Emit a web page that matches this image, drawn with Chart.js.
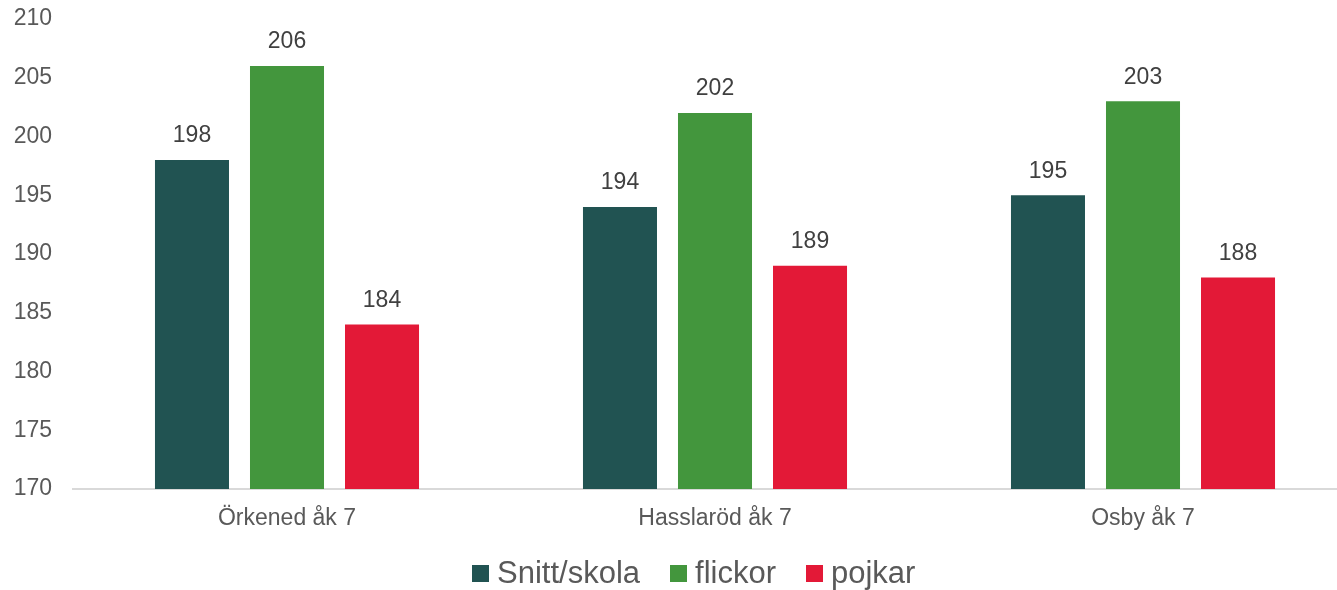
<!DOCTYPE html>
<html><head><meta charset="utf-8">
<script src="https://cdn.jsdelivr.net/npm/chart.js@4.4.0/dist/chart.umd.min.js"></script>
<style>
html,body{margin:0;padding:0;background:#fff;overflow:hidden;width:1337px;height:590px;}
#wrap{position:absolute;left:0;top:0;width:1357px;height:590px;}
#legend{position:absolute;left:472px;top:555px;display:flex;align-items:center;font-family:"Liberation Sans",Arial,sans-serif;font-size:31px;color:#595959;white-space:nowrap;}
.item{display:flex;align-items:center;margin-right:30px;}
.box{width:17px;height:17px;margin-right:8px;}
</style></head>
<body>
<div id="wrap"><canvas id="c" width="1357" height="590"></canvas></div>
<div id="legend"></div>
<script>
const categories = ["Örkened åk 7", "Hasslaröd åk 7", "Osby åk 7"];
const seriesNames = ["Snitt/skola", "flickor", "pojkar"];
const snitt = [198, 194, 195];
const flickor = [206, 202, 203];
const pojkar = [184, 189, 188];
const colors = ["#215352", "#43963D", "#E31937"];
const yMin = 170, yMax = 210, yStep = 5;

const FONT = '"Liberation Sans", Arial, sans-serif';

const labelPlugin = {
  id: 'barLabels',
  afterDatasetsDraw(chart) {
    const ctx = chart.ctx;
    ctx.save();
    ctx.font = '23px ' + FONT;
    ctx.fillStyle = '#404040';
    ctx.textAlign = 'center';
    ctx.textBaseline = 'middle';
    chart.data.datasets.forEach((ds, i) => {
      const meta = chart.getDatasetMeta(i);
      meta.data.forEach((el, j) => {
        ctx.fillText(String(ds.data[j]), el.x, el.y - 24);
      });
    });
    ctx.restore();
  }
};

const chart = new Chart(document.getElementById('c'), {
  type: 'bar',
  data: {
    labels: categories,
    datasets: [snitt, flickor, pojkar].map((d, i) => ({
      label: seriesNames[i],
      data: d,
      backgroundColor: colors[i],
      borderWidth: 0,
      categoryPercentage: 0.666,
      barPercentage: 0.779
    }))
  },
  options: {
    responsive: false,
    animation: false,
    layout: { padding: { top: 19, right: 0, left: 0, bottom: 0 } },
    plugins: { legend: { display: false }, tooltip: { enabled: false } },
    scales: {
      x: {
        grid: { display: false, drawTicks: false },
        border: { display: true, color: '#d9d9d9', width: 2 },
        ticks: { color: '#595959', font: { family: FONT, size: 23 }, padding: 16 },
        afterFit(s) { s.height = 101; s.paddingLeft = 0; s.paddingRight = 0; }
      },
      y: {
        min: yMin, max: yMax,
        grid: { display: false, drawTicks: false },
        border: { display: false },
        ticks: { stepSize: yStep, color: '#595959', font: { family: FONT, size: 23 }, padding: 21 },
        afterFit(s) { s.width = 73; s.paddingTop = 0; s.paddingBottom = 0; }
      }
    }
  },
  plugins: [labelPlugin]
});

const leg = document.getElementById('legend');
seriesNames.forEach((n, i) => {
  const it = document.createElement('div'); it.className = 'item';
  const b = document.createElement('div'); b.className = 'box'; b.style.background = colors[i];
  const t = document.createElement('span'); t.textContent = n;
  it.appendChild(b); it.appendChild(t); leg.appendChild(it);
});
</script>
</body></html>
